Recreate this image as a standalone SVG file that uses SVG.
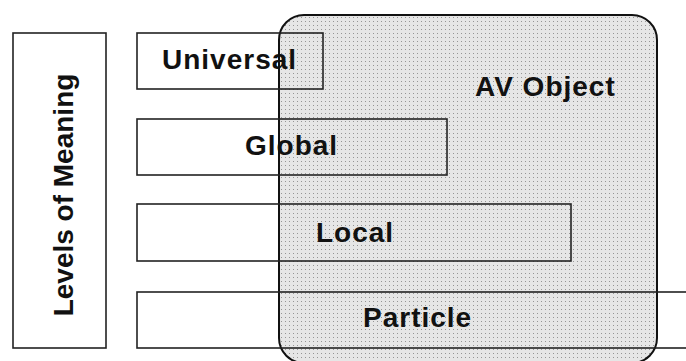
<svg xmlns="http://www.w3.org/2000/svg" width="686" height="361" viewBox="0 0 686 361">
<defs>
<pattern id="dots" x="0" y="0" width="4" height="4" patternUnits="userSpaceOnUse">
<rect width="4" height="4" fill="#e6e6e6"/>
<rect x="1" y="1" width="1" height="1" fill="#959595"/>
</pattern>
</defs>
<style>
.box{fill:none;stroke:#222;stroke-width:1.6}
.av{fill:url(#dots);stroke:#111;stroke-width:2}
.lbl{font-family:"Liberation Sans",Arial,sans-serif;font-weight:bold;font-size:28px;fill:#111;letter-spacing:1px}
.vlbl{font-family:"Liberation Sans",Arial,sans-serif;font-weight:bold;font-size:28px;fill:#111}
</style>
<rect width="686" height="361" fill="#fff"/>
<g id="av-object">
<rect class="av" x="279" y="15" width="378" height="348" rx="25" ry="25"/>
<text class="lbl" x="475" y="96">AV Object</text>
</g>
<g id="levels-of-meaning">
<rect class="box" x="13" y="33" width="93" height="315"/>
<text class="vlbl" transform="translate(73,195) rotate(-90)" text-anchor="middle">Levels of Meaning</text>
</g>
<g id="universal">
<rect class="box" x="137" y="33" width="186" height="56"/>
<text class="lbl" x="162" y="69">Universal</text>
</g>
<g id="global">
<rect class="box" x="137" y="119" width="310" height="56"/>
<text class="lbl" x="245" y="155">Global</text>
</g>
<g id="local">
<rect class="box" x="137" y="204" width="434" height="57"/>
<text class="lbl" x="316" y="242">Local</text>
</g>
<g id="particle">
<rect class="box" x="137" y="292" width="600" height="56"/>
<text class="lbl" x="363" y="327">Particle</text>
</g>
<g id="connectors"/>
</svg>
